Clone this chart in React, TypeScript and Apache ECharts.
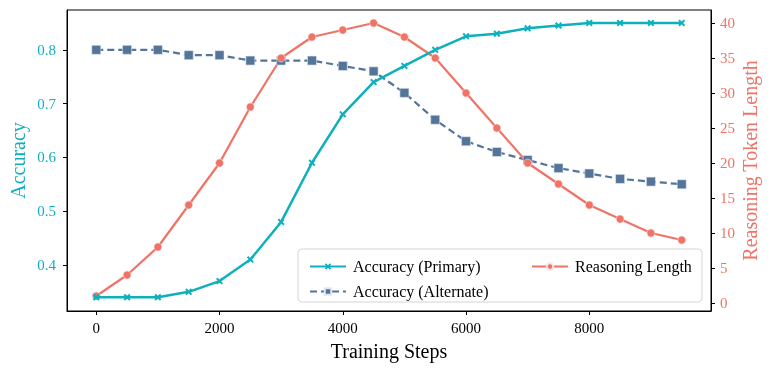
import React, { useEffect, useRef } from "react";
import * as echarts from "echarts";

const steps = [0, 500, 1000, 1500, 2000, 2500, 3000, 3500, 4000, 4500, 5000, 5500, 6000, 6500, 7000, 7500, 8000, 8500, 9000, 9500];
const accPrimary = [0.34, 0.34, 0.34, 0.35, 0.37, 0.41, 0.48, 0.59, 0.68, 0.74, 0.77, 0.80, 0.825, 0.83, 0.84, 0.845, 0.85, 0.85, 0.85, 0.85];
const accAlternate = [0.80, 0.80, 0.80, 0.79, 0.79, 0.78, 0.78, 0.78, 0.77, 0.76, 0.72, 0.67, 0.63, 0.61, 0.595, 0.58, 0.57, 0.56, 0.555, 0.55];
const reasoningLen = [1, 4, 8, 14, 20, 28, 35, 38, 39, 40, 38, 35, 30, 25, 20, 17, 14, 12, 10, 9];
const xTicks = [0, 2000, 4000, 6000, 8000];
const leftTicks = [0.4, 0.5, 0.6, 0.7, 0.8];
const rightTicks = [0, 5, 10, 15, 20, 25, 30, 35, 40];

const TEAL = "#0FB0BD";
const SLATE = "#54749A";
const CORAL = "#EF7367";
const FONT = "Liberation Serif";

export default function App() {
  const ref = useRef<HTMLDivElement>(null);
  useEffect(() => {
    const chart = echarts.init(ref.current!, undefined, { renderer: "svg" });
    const xPath = "path://M2,0L5,3L8,0L10,2L7,5L10,8L8,10L5,7L2,10L0,8L3,5L0,2Z";
    const legendText = { fontSize: 16, color: "#000", fontFamily: FONT, lineHeight: 17, padding: [0, 0, 0, 2] };
    chart.setOption({
      animation: false,
      textStyle: { fontFamily: FONT },
      grid: { left: 67, right: 60, top: 10, bottom: 61, show: true, borderColor: "#000", borderWidth: 1, outerBoundsMode: "none", containLabel: false },
      xAxis: {
        type: "value",
        min: -475,
        max: 9975,
        name: "Training Steps",
        nameLocation: "middle",
        nameGap: 30,
        nameMoveOverlap: false,
        nameTextStyle: { fontSize: 20, color: "#000", fontFamily: FONT },
        axisLine: { show: true, onZero: false, lineStyle: { color: "#000" } },
        axisTick: { show: true, length: 4, lineStyle: { color: "#000" }, customValues: xTicks },
        axisLabel: { fontSize: 15, color: "#000", fontFamily: FONT, margin: 9, customValues: xTicks, formatter: (v: number) => String(v) },
        splitLine: { show: false },
      },
      yAxis: [
        {
          type: "value",
          min: 0.3144,
          max: 0.874,
          position: "left",
          name: "Accuracy",
          nameLocation: "middle",
          nameGap: 39,
          nameMoveOverlap: false,
          nameTextStyle: { fontSize: 20, color: TEAL, fontFamily: FONT },
          axisLine: { show: true, onZero: false, lineStyle: { color: "#000" } },
          axisTick: { show: true, length: 4, lineStyle: { color: "#000" }, customValues: leftTicks },
          axisLabel: { fontSize: 15, color: TEAL, fontFamily: FONT, margin: 11, customValues: leftTicks, formatter: (v: number) => v.toFixed(1) },
          splitLine: { show: false },
        },
        {
          type: "value",
          min: -1.14,
          max: 41.86,
          position: "right",
          name: "Reasoning Token Length",
          nameLocation: "middle",
          nameGap: 29,
          nameRotate: 90,
          nameMoveOverlap: false,
          nameTextStyle: { fontSize: 20, color: CORAL, fontFamily: FONT },
          axisLine: { show: true, onZero: false, lineStyle: { color: "#000" } },
          axisTick: { show: true, length: 4, lineStyle: { color: "#000" }, customValues: rightTicks },
          axisLabel: { fontSize: 15, color: CORAL, fontFamily: FONT, margin: 9, customValues: rightTicks, formatter: (v: number) => String(v) },
          splitLine: { show: false },
        },
      ],
      legend: [
        {
          left: 304,
          top: 253,
          orient: "vertical",
          data: ["Accuracy (Primary)", "Accuracy (Alternate)"],
          itemWidth: 36,
          itemHeight: 8,
          itemGap: 8,
          z: 6,
          textStyle: legendText,
        },
        {
          left: 526,
          top: 253,
          orient: "vertical",
          data: ["Reasoning Length"],
          itemWidth: 36,
          itemHeight: 8,
          z: 6,
          textStyle: legendText,
        },
      ],
      graphic: [
        {
          type: "rect",
          z: 5,
          shape: { x: 298, y: 249, width: 404, height: 53, r: 4 },
          style: { fill: "rgba(255,255,255,0.85)", stroke: "#d4d4d4", lineWidth: 1 },
        },
      ],
      series: [
        {
          name: "Accuracy (Primary)",
          type: "line",
          yAxisIndex: 0,
          data: steps.map((s, i) => [s, accPrimary[i]]),
          symbol: xPath,
          symbolSize: 7,
          showAllSymbol: true,
          lineStyle: { color: TEAL, width: 2.5 },
          itemStyle: { color: TEAL },
          z: 3,
        },
        {
          name: "Accuracy (Alternate)",
          type: "line",
          yAxisIndex: 0,
          data: steps.map((s, i) => [s, accAlternate[i]]),
          symbol: "rect",
          symbolSize: 9,
          showAllSymbol: true,
          lineStyle: { color: SLATE, width: 2.2, type: [7, 4] },
          itemStyle: { color: SLATE, borderColor: "#dfe7f0", borderWidth: 0.6 },
          z: 2,
        },
        {
          name: "Reasoning Length",
          type: "line",
          yAxisIndex: 1,
          data: steps.map((s, i) => [s, reasoningLen[i]]),
          symbol: "circle",
          symbolSize: 8,
          showAllSymbol: true,
          lineStyle: { color: CORAL, width: 2.2 },
          itemStyle: { color: CORAL, borderColor: "#fbe3e0", borderWidth: 0.6 },
          z: 2,
        },
      ],
    });
    return () => chart.dispose();
  }, []);
  return <div ref={ref} style={{ position: "fixed", left: 0, top: 0, width: 771, height: 372 }} />;
}
